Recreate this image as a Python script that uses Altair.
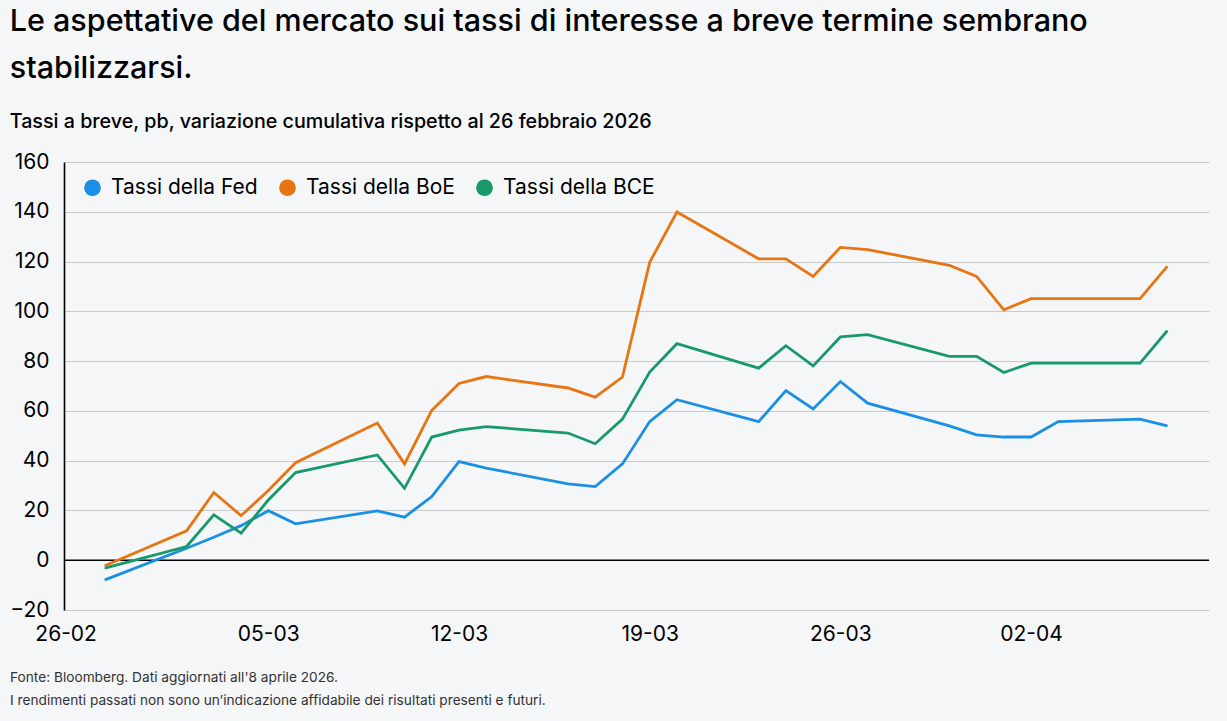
import altair as alt
import pandas as pd

# Business days covered by the series (2026)
dates = [
    "2026-02-27", "2026-03-02", "2026-03-03", "2026-03-04", "2026-03-05",
    "2026-03-06", "2026-03-09", "2026-03-10", "2026-03-11", "2026-03-12",
    "2026-03-13", "2026-03-16", "2026-03-17", "2026-03-18", "2026-03-19",
    "2026-03-20", "2026-03-23", "2026-03-24", "2026-03-25", "2026-03-26",
    "2026-03-27", "2026-03-30", "2026-03-31", "2026-04-01", "2026-04-02",
    "2026-04-03", "2026-04-06", "2026-04-07",
]

# Cumulative change in basis points since 26 Feb 2026
fed = [-7.9, 4.8, 9.2, 13.9, 19.9, 14.6, 19.8, 17.3, 25.6, 39.6,
       37.0, 30.7, 29.6, 38.7, 55.7, 64.5, 55.7, 68.2, 60.8, 71.8,
       63.1, 54.0, 50.4, 49.5, 49.5, 55.7, 56.7, 54.0]
boe = [-2.2, 11.8, 27.2, 17.9, 28.0, 39.2, 55.1, 38.7, 60.2, 71.0,
       73.8, 69.2, 65.5, 73.6, 119.7, 139.9, 121.1, 121.1, 114.0, 125.7,
       124.8, 118.5, 114.0, 100.6, 105.1, 105.1, 105.1, 118.1]
bce = [-3.2, 5.5, 18.2, 10.9, 24.2, 35.2, 42.3, 28.9, 49.5, 52.3,
       53.7, 51.1, 46.8, 56.7, 75.6, 87.0, 77.2, 86.2, 78.1, 89.7,
       90.6, 81.9, 81.9, 75.4, 79.2, 79.2, 79.2, 92.2]

series_names = ["Tassi della Fed", "Tassi della BoE", "Tassi della BCE"]
series_colors = ["#1A8FE3", "#E87511", "#18996A"]

tick_dates = ["2026-02-26", "2026-03-05", "2026-03-12", "2026-03-19",
              "2026-03-26", "2026-04-02"]
y_ticks = [-20, 0, 20, 40, 60, 80, 100, 120, 140, 160]

footer_lines = [
    "Fonte: Bloomberg. Dati aggiornati all'8 aprile 2026.",
    "I rendimenti passati non sono un\u2019indicazione affidabile dei risultati presenti e futuri.",
]

FONT = "Inter"
W, H = 1145, 448

rows = []
for name, vals in zip(series_names, [fed, boe, bce]):
    for d, v in zip(dates, vals):
        rows.append({"data": d, "serie": name, "valore": v})
df = pd.DataFrame(rows)


def dt(s, hours=0, minutes=0):
    y, m, d = (int(p) for p in s.split("-"))
    return alt.DateTime(year=y, month=m, date=d, hours=hours, minutes=minutes, utc=True)


x_scale = alt.Scale(type="utc", domain=[dt("2026-02-25", 12), dt("2026-04-08", 12, 45)])
y_scale = alt.Scale(domain=[-20, 160], nice=False, zero=False)
color_scale = alt.Scale(domain=series_names, range=series_colors)

x_enc = alt.X(
    "data:T",
    scale=x_scale,
    axis=alt.Axis(
        title=None,
        values=[dt(t) for t in tick_dates],
        format="%d-%m",
        grid=False,
        domain=False,
        ticks=False,
        labelFont=FONT,
        labelFontSize=21,
        labelColor="#000000",
        labelPadding=13,
        labelOffset={
            "condition": {"test": "utcdate(datum.value) == 26 && utcmonth(datum.value) == 1",
                          "value": -12},
            "value": 0,
        },
    ),
)
y_enc = alt.Y(
    "valore:Q",
    scale=y_scale,
    axis=alt.Axis(
        title=None,
        values=y_ticks,
        grid=True,
        gridColor="#C9CACC",
        gridWidth=1.2,
        domain=True,
        domainColor="#000000",
        domainWidth=1.6,
        ticks=False,
        labelFont=FONT,
        labelFontSize=21,
        labelColor="#000000",
        labelPadding=15,
    ),
)

base = alt.Chart(df).encode(x=x_enc, y=y_enc)

lines = base.mark_line(strokeWidth=2.8, strokeJoin="miter").encode(
    color=alt.Color("serie:N", scale=color_scale, legend=None),
    order=alt.Order("data:T"),
)

# Tiny filled dots under the lines carry the legend with filled circle symbols
dots = base.mark_circle(size=1, opacity=1).encode(
    color=alt.Color(
        "serie:N",
        scale=color_scale,
        legend=alt.Legend(
            title=None,
            orient="none",
            legendX=18,
            legendY=15,
            direction="horizontal",
            symbolType="circle",
            symbolSize=280,
            symbolStrokeWidth=0,
            symbolOpacity=1,
            labelFont=FONT,
            labelFontSize=21,
            labelColor="#000000",
            labelOffset=8,
            columnPadding=19,
        ),
    ),
)

zero_rule = alt.Chart(pd.DataFrame({"y": [0]})).mark_rule(
    color="#000000", strokeWidth=1.4
).encode(y=alt.Y("y:Q", scale=y_scale))

footer1 = alt.Chart(pd.DataFrame({"t": [footer_lines[0]]})).mark_text(
    align="left", baseline="middle", font=FONT, fontSize=13.7, color="#333333"
).encode(text="t:N", x=alt.value(-54), y=alt.value(H + 68))

footer2 = alt.Chart(pd.DataFrame({"t": [footer_lines[1]]})).mark_text(
    align="left", baseline="middle", font=FONT, fontSize=13.7, color="#333333"
).encode(text="t:N", x=alt.value(-54), y=alt.value(H + 91))

chart = alt.layer(zero_rule, dots, lines, footer1, footer2).properties(
    width=W,
    height=H,
    background="#F5F6F8",
    padding={"left": 64, "top": 162, "right": 18, "bottom": 111},
    autosize=alt.AutoSizeParams(type="none"),
    title=alt.TitleParams(
        text=["Le aspettative del mercato sui tassi di interesse a breve termine sembrano",
              "stabilizzarsi."],
        subtitle="Tassi a breve, pb, variazione cumulativa rispetto al 26 febbraio 2026",
        anchor="start",
        font=FONT,
        fontSize=30.5,
        fontWeight=500,
        color="#000000",
        lineHeight=47,
        subtitleFont=FONT,
        subtitleFontSize=19.7,
        subtitleFontWeight=500,
        subtitleColor="#000000",
        subtitlePadding=28,
        offset=19,
    ),
).configure_view(stroke=None)

chart.save("out.html", embed_options={"renderer": "svg", "actions": False})
